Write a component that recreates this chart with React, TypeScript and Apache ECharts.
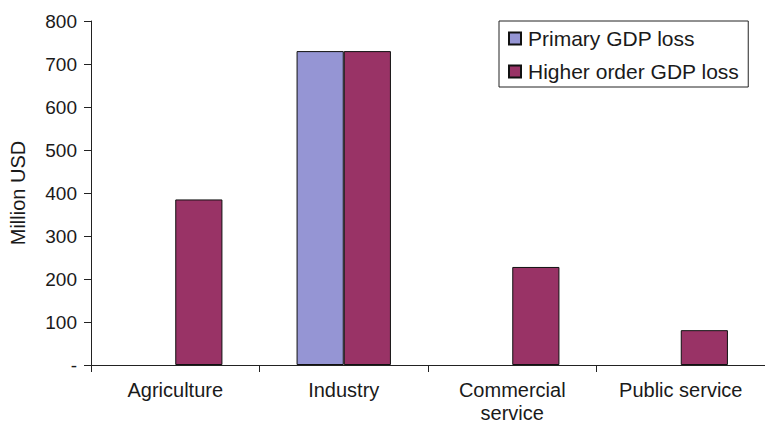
import React, { useEffect, useRef } from "react";
import * as echarts from "echarts";

const categories = ["Agriculture", "Industry", "Commercial\nservice", "Public service"];
const primaryLoss = [0, 730, 0, 0];
const higherOrderLoss = [385, 730, 228, 81];
const seriesNames = ["Primary GDP loss", "Higher order GDP loss"];
const yTicks = { min: 0, max: 800, step: 100 };

const FONT = "'Liberation Sans', Arial, sans-serif";
const TEXT = "#1a1a1a";

// Zero-height bars would otherwise leave a doubled stroke on the category axis
const withoutZeroOutline = (values: number[]) =>
  values.map((v) => (v === 0 ? { value: v, itemStyle: { borderWidth: 0 } } : v));

export default function App() {
  const ref = useRef<HTMLDivElement>(null);

  useEffect(() => {
    document.body.style.margin = "0";
    if (!ref.current) return;
    const chart = echarts.init(ref.current, null, { renderer: "svg" });
    chart.setOption({
      animation: false,
      backgroundColor: "#ffffff",
      textStyle: { fontFamily: FONT, color: TEXT },
      grid: { left: 88, top: 21, width: 686, height: 344 },
      legend: {
        orient: "vertical",
        left: 499,
        top: 21,
        padding: [7, 9, 5, 9],
        itemGap: 12,
        itemWidth: 12,
        itemHeight: 12,
        icon: "rect",
        borderColor: "#222",
        borderWidth: 1,
        textStyle: {
          fontFamily: FONT,
          fontSize: 21,
          lineHeight: 21,
          color: TEXT,
          padding: [0, 0, 0, 2],
        },
        data: seriesNames,
      },
      xAxis: {
        type: "category",
        data: categories,
        z: 5,
        axisLine: { lineStyle: { color: "#222", width: 1 } },
        axisTick: { show: true, length: 7, lineStyle: { color: "#222" } },
        axisLabel: {
          fontFamily: FONT,
          fontSize: 20,
          color: TEXT,
          margin: 13,
          lineHeight: 23,
          interval: 0,
        },
      },
      yAxis: {
        type: "value",
        min: yTicks.min,
        max: yTicks.max,
        interval: yTicks.step,
        name: "Million USD",
        nameLocation: "middle",
        nameGap: 63,
        nameTextStyle: { fontFamily: FONT, fontSize: 20, color: TEXT },
        splitLine: { show: false },
        axisLine: { show: true, lineStyle: { color: "#222", width: 1 } },
        axisTick: { show: true, length: 7, lineStyle: { color: "#222" } },
        axisLabel: {
          fontFamily: FONT,
          fontSize: 19,
          color: TEXT,
          margin: 14,
          formatter: (v: number) => (v === 0 ? "-" : String(v)),
        },
      },
      series: [
        {
          name: seriesNames[0],
          type: "bar",
          data: withoutZeroOutline(primaryLoss),
          barGap: "0%",
          barCategoryGap: "44%",
          itemStyle: { color: "#9595D4", borderColor: "#111", borderWidth: 1 },
        },
        {
          name: seriesNames[1],
          type: "bar",
          data: withoutZeroOutline(higherOrderLoss),
          barGap: "0%",
          barCategoryGap: "44%",
          itemStyle: { color: "#993366", borderColor: "#111", borderWidth: 1 },
        },
      ],
    });
    return () => chart.dispose();
  }, []);

  return <div ref={ref} style={{ width: 765, height: 424 }} />;
}
